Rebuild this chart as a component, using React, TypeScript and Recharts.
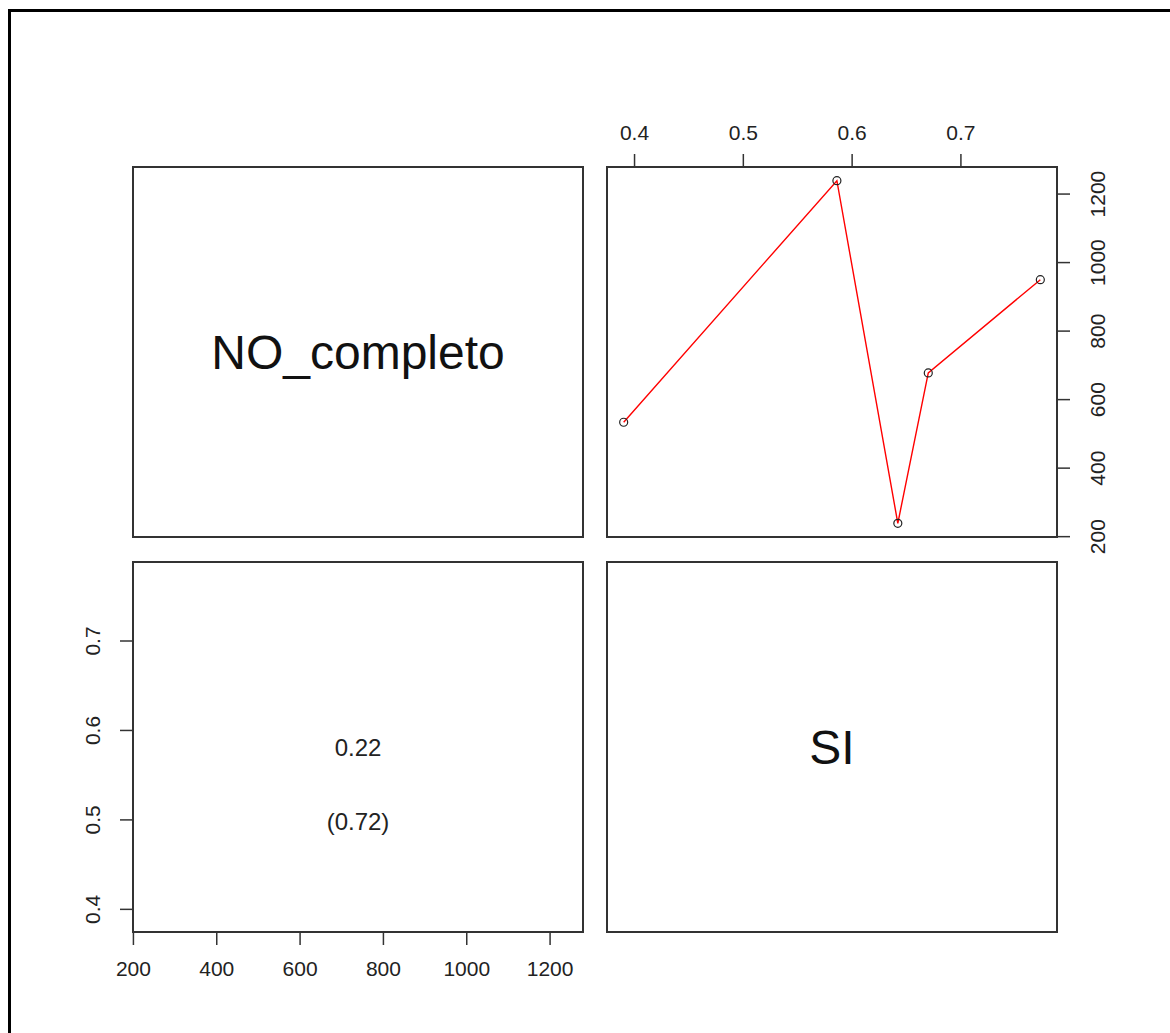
import React from "react";
import {
  LineChart,
  Line,
  ScatterChart,
  XAxis,
  YAxis,
  ReferenceArea,
  ReferenceDot,
} from "recharts";

// pairs() de dos variables: NO_completo y SI (5 observaciones)
const SI = [0.39, 0.586, 0.642, 0.67, 0.773];
const NO_COMPLETO = [534, 1239, 239, 678, 950];
const SI_TICKS = [0.4, 0.5, 0.6, 0.7];
const NO_TICKS = [200, 400, 600, 800, 1000, 1200];
const VAR_NAMES = ["NO_completo", "SI"];
const COR_TEXT = "0.22";
const P_TEXT = "(0.72)";

const FONT = "'Liberation Sans', Arial, sans-serif";
const INK = "#222";
const BOX = "#333";
const PANEL_W = 450;
const PANEL_H = 370;
const TICK_FONT = 21;
const PAD = 2; // margen para que el borde del panel no quede recortado

/// rango de R: min/max extendido un 4%
function padRange(v: number[]): [number, number] {
  const lo = Math.min(...v);
  const hi = Math.max(...v);
  const d = (hi - lo) * 0.04;
  return [lo - d, hi + d];
}

const SI_DOM = padRange(SI);
const NO_DOM = padRange(NO_COMPLETO);

const rows = SI.map((si, i) => ({ si, no: NO_COMPLETO[i] })).sort((a, b) => a.si - b.si);

const TICK_LINE = { stroke: BOX, strokeWidth: 1.5 };

function TopTick({ x, y, payload }: any) {
  return (
    <text x={x} y={y - 14} textAnchor="middle" fontSize={TICK_FONT} fill={INK} fontFamily={FONT}>
      {payload.value}
    </text>
  );
}

function BottomTick({ x, y, payload }: any) {
  return (
    <text x={x} y={y + 31} textAnchor="middle" fontSize={TICK_FONT} fill={INK} fontFamily={FONT}>
      {payload.value}
    </text>
  );
}

function RightTick({ x, y, payload }: any) {
  const cx = x + 28;
  return (
    <text
      x={cx}
      y={y}
      transform={`rotate(-90 ${cx} ${y})`}
      textAnchor="middle"
      dominantBaseline="central"
      fontSize={TICK_FONT}
      fill={INK}
      fontFamily={FONT}
    >
      {payload.value}
    </text>
  );
}

function LeftTick({ x, y, payload }: any) {
  const cx = x - 27;
  return (
    <text
      x={cx}
      y={y}
      transform={`rotate(-90 ${cx} ${y})`}
      textAnchor="middle"
      dominantBaseline="central"
      fontSize={TICK_FONT}
      fill={INK}
      fontFamily={FONT}
    >
      {payload.value}
    </text>
  );
}

function DiagPanel({ name, left, top }: { name: string; left: number; top: number }) {
  return (
    <div style={{ position: "absolute", left: left - PAD, top: top - PAD }}>
      <ScatterChart
        width={PANEL_W + 2 * PAD}
        height={PANEL_H + 2 * PAD}
        margin={{ top: PAD, right: PAD, bottom: PAD, left: PAD }}
      >
        <XAxis type="number" dataKey="x" domain={[0, 1]} hide allowDataOverflow />
        <YAxis type="number" dataKey="y" domain={[0, 1]} hide allowDataOverflow />
        <ReferenceArea
          x1={0}
          x2={1}
          y1={0}
          y2={1}
          fill="none"
          stroke={BOX}
          strokeWidth={2}
          ifOverflow="visible"
          label={{ value: name, position: "center", fontSize: 48, fill: "#111", fontFamily: FONT }}
        />
      </ScatterChart>
    </div>
  );
}

export default function App() {
  const noMid = (NO_DOM[0] + NO_DOM[1]) / 2;
  const siAt = (f: number) => SI_DOM[0] + (SI_DOM[1] - SI_DOM[0]) * f;
  return (
    <div>
      <div
        style={{
          position: "absolute",
          left: 8,
          top: 9,
          width: 1160,
          height: 1022,
          borderTop: "3px solid #000",
          borderLeft: "3px solid #000",
        }}
      />

      <DiagPanel name={VAR_NAMES[0]} left={133} top={167} />
      <DiagPanel name={VAR_NAMES[1]} left={607} top={562} />

      {/* arriba derecha: SI (x) vs NO_completo (y) */}
      <div style={{ position: "absolute", left: 607 - PAD, top: 107 }}>
        <LineChart
          width={PANEL_W + 90 + PAD}
          height={PANEL_H + 60 + 30}
          data={rows}
          margin={{ top: 0, right: 0, bottom: 30, left: PAD }}
        >
          <XAxis
            dataKey="si"
            type="number"
            orientation="top"
            height={60}
            domain={SI_DOM}
            ticks={SI_TICKS}
            allowDataOverflow
            axisLine={false}
            tickLine={TICK_LINE}
            tickSize={13}
            tickMargin={0}
            tick={<TopTick />}
            interval={0}
          />
          <YAxis
            dataKey="no"
            type="number"
            orientation="right"
            width={90}
            domain={NO_DOM}
            ticks={NO_TICKS}
            allowDataOverflow
            axisLine={false}
            tickLine={TICK_LINE}
            tickSize={13}
            tickMargin={0}
            tick={<RightTick />}
            interval={0}
          />
          <ReferenceArea
            x1={SI_DOM[0]}
            x2={SI_DOM[1]}
            y1={NO_DOM[0]}
            y2={NO_DOM[1]}
            fill="none"
            stroke={BOX}
            strokeWidth={2}
            ifOverflow="visible"
          />
          <Line
            type="linear"
            dataKey="no"
            stroke="#ff0000"
            strokeWidth={1.4}
            dot={{ r: 4, stroke: INK, strokeWidth: 1.2, fill: "none" }}
            activeDot={false}
            isAnimationActive={false}
          />
        </LineChart>
      </div>

      {/* abajo izquierda: correlación */}
      <div style={{ position: "absolute", left: 43, top: 562 - PAD }}>
        <LineChart
          width={PANEL_W + 90 + PAD}
          height={PANEL_H + 70 + PAD}
          data={rows}
          margin={{ top: PAD, right: PAD, bottom: 0, left: 0 }}
        >
          <XAxis
            dataKey="no"
            type="number"
            orientation="bottom"
            height={70}
            domain={NO_DOM}
            ticks={NO_TICKS}
            allowDataOverflow
            axisLine={false}
            tickLine={TICK_LINE}
            tickSize={13}
            tickMargin={0}
            tick={<BottomTick />}
            interval={0}
          />
          <YAxis
            dataKey="si"
            type="number"
            orientation="left"
            width={90}
            domain={SI_DOM}
            ticks={SI_TICKS}
            allowDataOverflow
            axisLine={false}
            tickLine={TICK_LINE}
            tickSize={13}
            tickMargin={0}
            tick={<LeftTick />}
            interval={0}
          />
          <ReferenceArea
            x1={NO_DOM[0]}
            x2={NO_DOM[1]}
            y1={SI_DOM[0]}
            y2={SI_DOM[1]}
            fill="none"
            stroke={BOX}
            strokeWidth={2}
            ifOverflow="visible"
          />
          <ReferenceDot
            x={noMid}
            y={siAt(0.5)}
            r={0}
            ifOverflow="visible"
            label={{ value: COR_TEXT, position: "center", fontSize: 24, fill: INK, fontFamily: FONT }}
          />
          <ReferenceDot
            x={noMid}
            y={siAt(0.3)}
            r={0}
            ifOverflow="visible"
            label={{ value: P_TEXT, position: "center", fontSize: 24, fill: INK, fontFamily: FONT }}
          />
        </LineChart>
      </div>
    </div>
  );
}
